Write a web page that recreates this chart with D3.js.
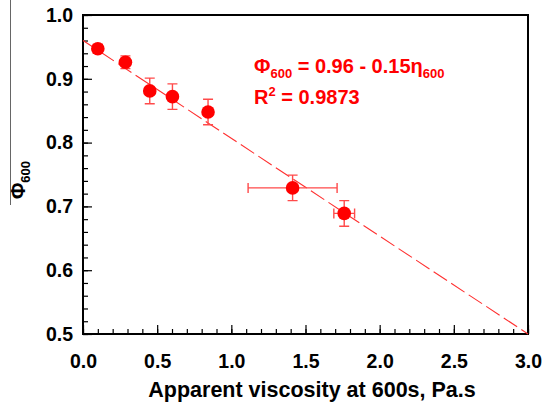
<!DOCTYPE html>
<html>
<head>
<meta charset="utf-8">
<script src="https://cdn.jsdelivr.net/npm/d3@7"></script>
<style>
    body { margin: 0; background: #fff; }
    svg { display: block; font-family: "Liberation Sans", Arial, sans-serif; }
</style>
</head>
<body>
<div id="chart"></div>
<script>
// Data
var viscosity = [0.10, 0.286, 0.45, 0.603, 0.843, 1.413, 1.761];
var phi600    = [0.947, 0.926, 0.881, 0.872, 0.848, 0.729, 0.689];
var phiErr    = [0.007, 0.010, 0.020, 0.020, 0.020, 0.020, 0.020];
var viscErr   = [0.03, 0.02, 0, 0, 0, 0.30, 0.07];
var fitIntercept = 0.96,
    fitSlope = -0.1533;
var xTicks = [0.0, 0.5, 1.0, 1.5, 2.0, 2.5, 3.0];
var yTicks = [0.5, 0.6, 0.7, 0.8, 0.9, 1.0];

// Set attributes
var margin = {top: 15, right: 17, bottom: 71, left: 83},
    width = 545 - margin.left - margin.right,
    height = 405 - margin.top - margin.bottom;

var x = d3.scaleLinear().domain([0, 3]).range([0, width]);
var y = d3.scaleLinear().domain([0.5, 1.0]).range([height, 0]);

var red = '#ff0000',
    barColor = '#ff4a4a';

var root = d3.select('#chart').append('svg')
        .attr('width', 545)
        .attr('height', 405);

// stray rule at the far left of the figure
root.append('line')
    .attr('x1', 10.5).attr('x2', 10.5)
    .attr('y1', 0).attr('y2', 205)
    .attr('stroke', '#666').attr('stroke-width', 1);

var svg = root.append('g')
        .attr('transform', 'translate(' + margin.left + ',' + margin.top + ')');

// minor ticks
svg.append('g')
    .attr('transform', 'translate(0,' + height + ')')
    .call(d3.axisBottom(x).tickValues(d3.range(0, 3.001, 0.1)).tickSize(-5).tickFormat(''))
    .call(function(g) { g.select('.domain').remove(); });
svg.append('g')
    .call(d3.axisLeft(y).tickValues(d3.range(0.5, 1.001, 0.02)).tickSize(-5).tickFormat(''))
    .call(function(g) { g.select('.domain').remove(); });

// major ticks and labels
var xAxis = svg.append('g')
    .attr('transform', 'translate(0,' + height + ')')
    .call(d3.axisBottom(x).tickValues(xTicks).tickSize(-9).tickPadding(20).tickFormat(d3.format('.1f')));
var yAxis = svg.append('g')
    .call(d3.axisLeft(y).tickValues(yTicks).tickSize(-9).tickPadding(10).tickFormat(d3.format('.1f')));

[xAxis, yAxis].forEach(function(a) {
    a.select('.domain').remove();
    a.selectAll('text')
        .attr('font-size', 19.5)
        .attr('font-weight', 'bold')
        .attr('fill', '#000')
        .attr('font-family', '"Liberation Sans", Arial, sans-serif');
});
svg.selectAll('.tick line').attr('stroke', '#000').attr('stroke-width', 1.2);

// frame
svg.append('rect')
    .attr('width', width)
    .attr('height', height)
    .attr('fill', 'none')
    .attr('stroke', '#000')
    .attr('stroke-width', 2);

// fitted line
svg.append('line')
    .attr('x1', x(0)).attr('y1', y(fitIntercept))
    .attr('x2', x(3)).attr('y2', y(fitIntercept + fitSlope * 3))
    .attr('stroke', '#ff3030')
    .attr('stroke-width', 1.1)
    .attr('stroke-dasharray', '16,5');

var pts = viscosity.map(function(v, i) {
    return {x: v, y: phi600[i], ey: phiErr[i], ex: viscErr[i]};
});

// error bars
var cap = 5;
var eb = svg.append('g').attr('stroke', barColor).attr('stroke-width', 1.4).attr('fill', 'none');
pts.forEach(function(d) {
    var cx = x(d.x), cy = y(d.y);
    var y1 = y(d.y + d.ey), y2 = y(d.y - d.ey);
    eb.append('path').attr('d',
        'M' + cx + ',' + y1 + 'V' + y2 +
        'M' + (cx - cap) + ',' + y1 + 'H' + (cx + cap) +
        'M' + (cx - cap) + ',' + y2 + 'H' + (cx + cap));
    if (d.ex > 0) {
        var x1 = x(d.x - d.ex), x2 = x(d.x + d.ex);
        eb.append('path').attr('d',
            'M' + x1 + ',' + cy + 'H' + x2 +
            'M' + x1 + ',' + (cy - cap) + 'V' + (cy + cap) +
            'M' + x2 + ',' + (cy - cap) + 'V' + (cy + cap));
    }
});

// points
svg.selectAll('.dot')
        .data(pts)
    .enter().append('circle')
        .attr('class', 'dot')
        .attr('cx', function(d) { return x(d.x); })
        .attr('cy', function(d) { return y(d.y); })
        .attr('r', 6.8)
        .attr('fill', red);

// equation
var eq = svg.append('text')
    .attr('x', 171).attr('y', 58)
    .attr('fill', red).attr('font-size', 20).attr('font-weight', 'bold');
eq.append('tspan').text('Φ');
eq.append('tspan').attr('font-size', 13).attr('dy', 5).text('600');
eq.append('tspan').attr('dy', -5).text(' = 0.96 - 0.15η');
eq.append('tspan').attr('font-size', 13).attr('dy', 5).text('600');

var r2 = svg.append('text')
    .attr('x', 171).attr('y', 89)
    .attr('fill', red).attr('font-size', 20).attr('font-weight', 'bold');
r2.append('tspan').text('R');
r2.append('tspan').attr('font-size', 13).attr('dy', -8).text('2');
r2.append('tspan').attr('dy', 8).text(' = 0.9873');

// axis titles
root.append('text')
    .attr('x', 312).attr('y', 397)
    .attr('text-anchor', 'middle')
    .attr('font-size', 21.5).attr('font-weight', 'bold')
    .text('Apparent viscosity at 600s, Pa.s');

var yl = root.append('text')
    .attr('transform', 'translate(25,180) rotate(-90)')
    .attr('text-anchor', 'middle')
    .attr('font-size', 20).attr('font-weight', 'bold');
yl.append('tspan').text('Φ');
yl.append('tspan').attr('font-size', 13).attr('dy', 5).text('600');
</script>
</body>
</html>
